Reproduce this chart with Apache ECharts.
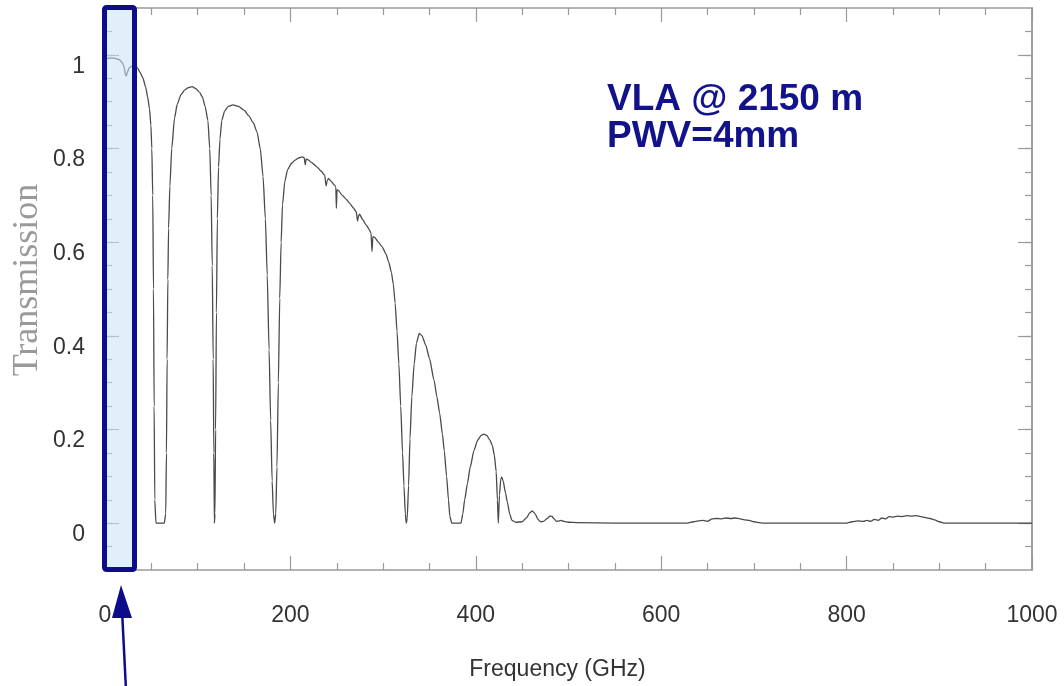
<!DOCTYPE html>
<html>
<head>
<meta charset="utf-8">
<script src="https://cdn.jsdelivr.net/npm/echarts@6/dist/echarts.min.js"></script>
<style>
html,body{margin:0;padding:0;background:#fff;}
#chart{width:1064px;height:686px;}
</style>
</head>
<body>
<div id="chart"></div>
<script>
// Frequency (GHz)
const freq = [0,5,10,15,18,20,21,22,23,24,26,29,32,35,38,41,44,46,48,49.5,50.5,51.5,52.3,53,53.7,55,58,61,64,65.5,66.3,67,67.8,68.6,70,72,75,78,82,86,90,94,98,102,105,108,111,113,114.5,115.7,116.7,117.4,118,118.6,119.3,120.2,121.2,122.5,124,126,129,133,138,144,150,155,160,164,167.5,170.5,173,175,177,178.7,180.3,181.7,183,184.2,185.5,187,188.5,190,191.5,194,197,201,205,209,213,215,216,217,219,223,228,233,237,238.5,239.5,241,244,247,249,249.6,250.3,252,256,260,264,268,271,272.5,273.3,274.5,278,282,285,287,288,289,291,295,299,303,306,309,311,313,315,317,319,321,322.5,324,325,326,327.5,329,331,333.5,336,339,342,346,350,355,358,361,364,366,368.5,370.5,372,374,380,384,386,388,391,394,398,402,406,409,412,415,418,420,422,423.3,424.3,425.5,427,428,429.5,432,434,436.5,439,443,450,455,458,461,464,467,470,473,477,480,482,484,487,490,492,495,500,510,550,600,628,635,640,645,650,655,660,665,670,675,680,685,690,695,700,705,710,750,800,806,812,818,822,826,830,834,838,842,846,850,855,860,865,870,875,880,885,890,895,900,905,950,1000];
// Transmission
const trans = [0.992,0.993,0.993,0.99,0.985,0.978,0.97,0.958,0.955,0.962,0.972,0.976,0.976,0.972,0.962,0.95,0.93,0.91,0.885,0.85,0.8,0.7,0.5,0.25,0.05,0,0,0,0,0.02,0.15,0.35,0.52,0.63,0.72,0.8,0.865,0.895,0.915,0.925,0.93,0.932,0.928,0.92,0.91,0.89,0.86,0.8,0.7,0.55,0.35,0.15,0,0.02,0.2,0.45,0.65,0.76,0.82,0.86,0.88,0.89,0.893,0.89,0.882,0.87,0.855,0.835,0.8,0.74,0.65,0.53,0.37,0.22,0.09,0.02,0,0.02,0.12,0.3,0.48,0.6,0.68,0.73,0.755,0.768,0.775,0.78,0.782,0.78,0.765,0.778,0.776,0.77,0.762,0.752,0.743,0.72,0.73,0.736,0.73,0.723,0.718,0.672,0.712,0.71,0.7,0.692,0.683,0.673,0.665,0.645,0.655,0.66,0.648,0.636,0.627,0.62,0.58,0.612,0.61,0.6,0.59,0.575,0.558,0.535,0.51,0.47,0.41,0.34,0.25,0.15,0.08,0.02,0,0.01,0.08,0.18,0.27,0.34,0.385,0.405,0.4,0.38,0.352,0.305,0.27,0.235,0.19,0.155,0.1,0.05,0.015,0,0,0,0.02,0.05,0.085,0.12,0.155,0.177,0.188,0.19,0.187,0.178,0.165,0.145,0.11,0.05,0,0.06,0.095,0.098,0.09,0.065,0.045,0.02,0.006,0.002,0.003,0.012,0.022,0.026,0.02,0.008,0.003,0.004,0.01,0.015,0.015,0.01,0.004,0.005,0.006,0.004,0.002,0.001,0,0,0,0.003,0.005,0.006,0.004,0.009,0.01,0.009,0.011,0.01,0.011,0.009,0.007,0.006,0.003,0.001,0,0,0,0.003,0.005,0.004,0.006,0.004,0.008,0.006,0.011,0.009,0.014,0.013,0.015,0.014,0.016,0.015,0.016,0.014,0.012,0.01,0.007,0.003,0,0,0];
const yMajorTicks = [0, 0.2, 0.4, 0.6, 0.8, 1];
const yMinorTicks = [-0.05, 0, 0.05, 0.1, 0.15, 0.2, 0.25, 0.3, 0.35, 0.4, 0.45, 0.5, 0.55, 0.6, 0.65, 0.7, 0.75, 0.8, 0.85, 0.9, 0.95, 1, 1.05];
const titleLines = ['VLA @ 2150 m', 'PWV=4mm'];

const AX = '#9a9a9a';
const chart = echarts.init(document.getElementById('chart'), null, {renderer: 'canvas'});
const xBase = {
  type: 'value', min: 0, max: 1000, interval: 200,
  axisLine: {show: true, onZero: false, lineStyle: {color: AX, width: 1.5}},
  axisTick: {show: true, inside: true, length: 14, lineStyle: {color: AX, width: 1.2}},
  minorTick: {show: true, splitNumber: 4, length: 7, lineStyle: {color: AX, width: 1.2}},
  splitLine: {show: false}, minorSplitLine: {show: false}
};
function yAx(pos, major, withLabel) {
  return {
    type: 'value', min: -0.1, max: 1.1, position: pos,
    axisLine: {show: true, onZero: false, lineStyle: {color: AX, width: 1.5}},
    axisTick: {show: true, inside: true, length: major ? 14 : 7,
      customValues: major ? yMajorTicks : yMinorTicks, lineStyle: {color: AX, width: 1.2}},
    axisLabel: withLabel ? {show: true, customValues: yMajorTicks, margin: 20, fontSize: 23,
      color: '#333', fontFamily: 'Liberation Sans', verticalAlign: 'top',
      formatter: v => String(v)} : {show: false},
    splitLine: {show: false}
  };
}
chart.setOption({
  animation: false,
  backgroundColor: '#fff',
  grid: {left: 105, right: 32, top: 8, bottom: 116, outerBoundsMode: 'none', containLabel: false},
  xAxis: [
    Object.assign({}, xBase, {position: 'bottom',
      axisLabel: {show: true, margin: 34, fontSize: 23, color: '#333', fontFamily: 'Liberation Sans',
        formatter: v => String(v)},
      name: 'Frequency (GHz)', nameLocation: 'middle', nameGap: 88,
      nameTextStyle: {fontSize: 23, color: '#333', fontFamily: 'Liberation Sans', padding: [0, 22, 0, 0]}}),
    Object.assign({}, xBase, {position: 'top', axisLabel: {show: false}})
  ],
  yAxis: [yAx('left', true, true), yAx('left', false, false), yAx('right', true, false), yAx('right', false, false)],
  series: [{
    type: 'line', xAxisIndex: 0, yAxisIndex: 0,
    data: freq.map((f, i) => [f, trans[i]]),
    showSymbol: false, symbol: 'none',
    lineStyle: {color: '#4a4a4a', width: 1.3},
    smooth: 0.2, smoothMonotone: 'x', z: 3
  }],
  graphic: [
    {type: 'rect', z: 100, shape: {x: 104.5, y: 7.5, width: 30, height: 562, r: 2},
     style: {fill: 'rgba(200,226,246,0.55)', stroke: '#0d0d8c', lineWidth: 5}},
    {type: 'line', z: 100, shape: {x1: 126, y1: 690, x2: 122, y2: 610},
     style: {stroke: '#0d0d8c', lineWidth: 2.5}},
    {type: 'polygon', z: 100, shape: {points: [[121, 585], [112, 618], [132, 618]]},
     style: {fill: '#0d0d8c'}},
    {type: 'text', z: 100, x: 28, y: 280, rotation: Math.PI / 2,
     style: {text: 'Transmission', font: '36px "Liberation Serif"', fill: '#9a9a9a', align: 'center', verticalAlign: 'middle'}},
    {type: 'text', z: 100, x: 607, y: 100,
     style: {text: titleLines[0], font: 'bold 37px "Liberation Sans"', fill: '#12128a', align: 'left', verticalAlign: 'middle'}},
    {type: 'text', z: 100, x: 607, y: 137,
     style: {text: titleLines[1], font: 'bold 37px "Liberation Sans"', fill: '#12128a', align: 'left', verticalAlign: 'middle'}}
  ]
});
</script>
</body>
</html>
